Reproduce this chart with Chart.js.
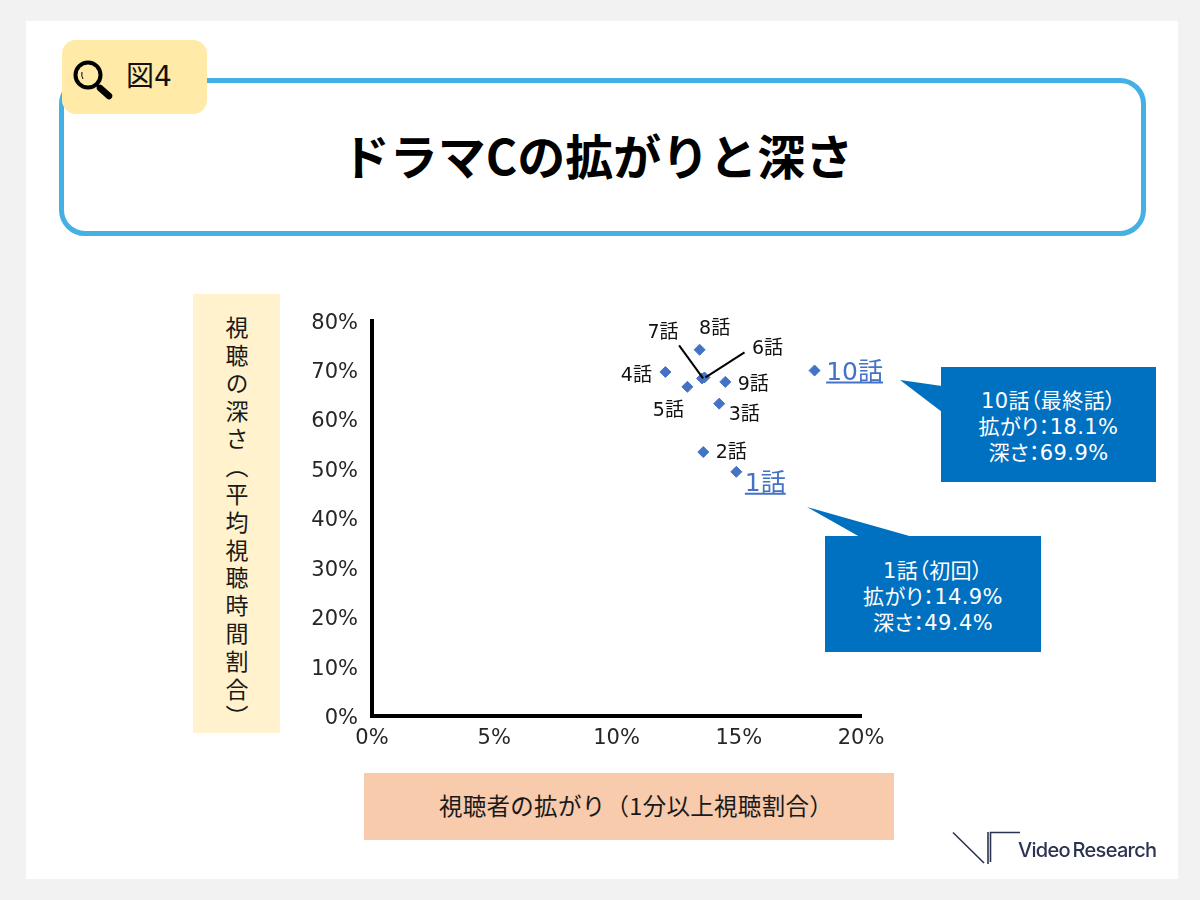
<!DOCTYPE html>
<html lang="ja">
<head>
<meta charset="utf-8">
<title>ドラマCの拡がりと深さ</title>
<script src="https://cdn.jsdelivr.net/npm/chart.js@4"></script>
<style>
  html, body { margin: 0; padding: 0; background: #f2f2f2; }
  body { width: 1200px; height: 900px; position: relative; overflow: hidden;
    font-family: "DejaVu Sans", "Noto Sans CJK JP", sans-serif; color: #1a1a1a; }
  .abs { position: absolute; box-sizing: border-box; }
  #card { left: 26px; top: 21px; width: 1152px; height: 858px; background: #fff; }
  #titleBox { left: 59px; top: 78px; width: 1087px; height: 158px; border: 5px solid #45b0e4; border-radius: 26px;
    display: flex; align-items: center; justify-content: center; color: #000; padding-bottom: 6px; padding-right: 10px;
    font: 700 48px "Noto Sans CJK JP", sans-serif; }
  #badge { left: 62px; top: 40px; width: 145px; height: 74px; background: #ffeaa8; border-radius: 14px; }
  #badgeText { left: 126px; top: 58px; font: 400 28px "DejaVu Sans", "Noto Sans CJK JP", sans-serif; line-height: 38px; color: #111; }
  #yTitle { left: 193px; top: 294px; width: 87px; height: 439px; background: #fff2cc;
    writing-mode: vertical-rl; text-align: center; font: 400 23px/87px "Noto Sans CJK JP", sans-serif;
    letter-spacing: 4.8px; padding-top: 22px; white-space: nowrap; }
  #xTitle { left: 364px; top: 773px; width: 530px; height: 67px; background: #f8cbad; padding-left: 14px; letter-spacing: 0.3px;
    text-align: center; font: 400 23.5px/65px "Noto Sans CJK JP", sans-serif; white-space: nowrap; }
  #chartCanvas { position: absolute; left: 300px; top: 294px; }
  .callout { background: #0070c0; color: #fff; text-align: center; font-size: 21px; line-height: 26px; letter-spacing: 0.4px;
    font-feature-settings: "palt"; display: flex; flex-direction: column; justify-content: center; white-space: nowrap; }
  #call10 { left: 941px; top: 367px; width: 215px; height: 115px; padding-top: 4px; }
  #call1 { left: 825px; top: 536px; width: 216px; height: 116px; padding-top: 6px; }
  #logoText { left: 1018px; top: 836px; font: 500 20px/28px Inter, sans-serif; color: #2b3350; letter-spacing: -0.7px; word-spacing: -2px; white-space: nowrap; }
  svg { position: absolute; left: 0; top: 0; }
</style>
</head>
<body>
<div class="abs" id="card"></div>
<div class="abs" id="titleBox">ドラマCの拡がりと深さ</div>
<div class="abs" id="badge"></div>
<div class="abs" id="badgeText">図4</div>
<div class="abs" id="yTitle">視聴の深さ（平均視聴時間割合）</div>
<div class="abs" id="xTitle">視聴者の拡がり（1分以上視聴割合）</div>
<canvas id="chartCanvas" width="600" height="460"></canvas>
<svg width="1200" height="900">
  <circle cx="88" cy="75" r="12.5" fill="none" stroke="#000" stroke-width="4"/>
  <path d="M82 72 q-1 4 1 7" fill="none" stroke="#000" stroke-width="1"/>
  <line x1="97" y1="85" x2="100" y2="88" stroke="#000" stroke-width="3"/>
  <line x1="100" y1="88" x2="109" y2="96" stroke="#000" stroke-width="6.5" stroke-linecap="round"/>
  <polygon points="900,380 942,386 942,412" fill="#0070c0"/>
  <polygon points="807,507 860,537 913,537" fill="#0070c0"/>
  <g fill="none" stroke="#2b3350" stroke-width="1.6">
    <line x1="953" y1="832.5" x2="984" y2="863"/>
    <line x1="988" y1="832" x2="988" y2="864"/>
    <polyline points="990.5,862 990.5,832.5 1020,832.5"/>
  </g>
</svg>
<div class="abs callout" id="call10"><div>10話（最終話）</div><div>拡がり：18.1%</div><div>深さ：69.9%</div></div>
<div class="abs callout" id="call1"><div>1話（初回）</div><div>拡がり：14.9%</div><div>深さ：49.4%</div></div>
<div class="abs" id="logoText">Video Research</div>

<script>
"use strict";

const episodeLabels = ["1話", "2話", "3話", "4話", "5話", "6話", "7話", "8話", "9話", "10話"];
const reachValues = [14.9, 13.55, 14.2, 12.0, 12.9, 13.6, 13.5, 13.4, 14.45, 18.1];
const depthValues = [49.4, 53.4, 63.2, 69.6, 66.6, 68.5, 68.3, 74.1, 67.6, 69.9];
const xTickStep = 5;
const yTickStep = 10;

// label offsets from each point, in px
const labelOffsets = [[29, 13], [28, 1], [25, 11], [-29, 4], [-19, 24], [63, -28], [-39, -45], [15, -21], [28, 3], [40, 3]];
const highlighted = ["1話", "10話"];
const leaderLines = { "6話": [40, -25], "7話": [-23, -33] };

const fontFamily = '"DejaVu Sans", "Noto Sans CJK JP", sans-serif';

const episodeLabelPlugin = {
  id: "episodeLabels",
  beforeDraw(chart) {
    // digits sit a bit high with the "middle" baseline, nudge the y tick labels down
    chart.scales.y.getLabelItems().forEach(item => {
      if (!item.nudged) {
        item.options.translation[1] += 2.5;
        item.nudged = true;
      }
    });
  },
  afterDatasetsDraw(chart) {
    const ctx = chart.ctx;
    const xScale = chart.scales.x;
    const yScale = chart.scales.y;

    ctx.save();
    ctx.textAlign = "center";
    ctx.textBaseline = "middle";

    episodeLabels.forEach((label, i) => {
      const px = xScale.getPixelForValue(reachValues[i]);
      const py = yScale.getPixelForValue(depthValues[i]);
      const lx = px + labelOffsets[i][0];
      const ly = py + labelOffsets[i][1];
      const isBig = highlighted.includes(label);

      ctx.font = (isBig ? "25px " : "19px ") + fontFamily;
      ctx.fillStyle = isBig ? "#4472c4" : "#111";
      ctx.fillText(label, lx, ly);

      if (isBig) {
        const w = ctx.measureText(label).width;

        ctx.strokeStyle = "#4472c4";
        ctx.lineWidth = 2;
        ctx.beginPath();
        ctx.moveTo(lx - w / 2, ly + 9);
        ctx.lineTo(lx + w / 2, ly + 9);
        ctx.stroke();
      }

      if (leaderLines[label]) {
        ctx.strokeStyle = "#000";
        ctx.lineWidth = 2;
        ctx.beginPath();
        ctx.moveTo(px + leaderLines[label][0], py + leaderLines[label][1]);
        ctx.lineTo(px + 1, py);
        ctx.stroke();
      }
    });

    ctx.restore();
  }
};

new Chart(document.getElementById("chartCanvas").getContext("2d"), {
  type: "scatter",
  data: {
    labels: episodeLabels,
    datasets: [
      {
        data: reachValues.map((x, i) => ({ x: x, y: depthValues[i] })),
        backgroundColor: "#4472c4",
        borderColor: "#4472c4",
        pointStyle: "rectRot",
        pointRadius: 5.5
      }
    ]
  },
  options: {
    responsive: false,
    animation: false,
    layout: { padding: { top: 0, right: 39, bottom: 0, left: 0 } },
    plugins: { legend: { display: false }, tooltip: { enabled: false } },
    scales: {
      x: {
        type: "linear",
        min: 0,
        max: 20,
        grid: { display: false, drawTicks: false },
        border: { color: "#000", width: 4 },
        ticks: {
          stepSize: xTickStep,
          padding: 10,
          color: "#262626",
          maxRotation: 0,
          font: { family: fontFamily, size: 21 },
          callback: value => value + "%"
        },
        afterFit(scale) { scale.height = 38; }
      },
      y: {
        type: "linear",
        min: 0,
        max: 80,
        grid: { display: false, drawTicks: false },
        border: { color: "#000", width: 4 },
        ticks: {
          stepSize: yTickStep,
          padding: 14,
          color: "#262626",
          font: { family: fontFamily, size: 21 },
          callback: value => value + "%"
        },
        afterFit(scale) { scale.width = 72; }
      }
    }
  },
  plugins: [episodeLabelPlugin]
});
</script>
</body>
</html>
